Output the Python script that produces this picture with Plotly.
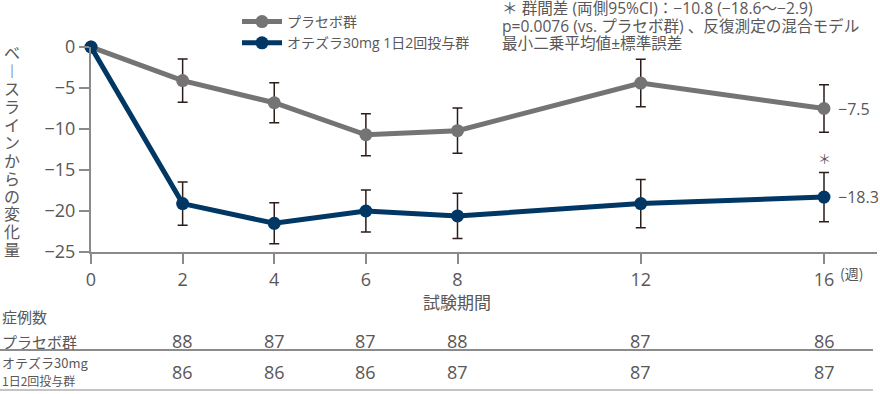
import plotly.graph_objects as go

# ---- data ----
weeks = [0, 2, 4, 6, 8, 12, 16]
placebo_mean = [0, -4.1, -6.8, -10.7, -10.2, -4.4, -7.5]
placebo_se = [0, 2.65, 2.45, 2.55, 2.75, 2.9, 2.9]
drug_mean = [0, -19.1, -21.5, -20.0, -20.6, -19.1, -18.3]
drug_se = [0, 2.65, 2.5, 2.55, 2.75, 2.95, 3.0]

series_names = ["プラセボ群", "オテズラ30mg 1日2回投与群"]
end_labels = ["−7.5", "−18.3"]

table_weeks = [2, 4, 6, 8, 12, 16]
n_placebo = [88, 87, 87, 88, 87, 86]
n_drug = [86, 86, 86, 87, 87, 87]

x_ticks = [0, 2, 4, 6, 8, 12, 16]
x_ticktext = ["0", "2", "4", "6", "8", "12", "16"]
y_ticks = [0, -5, -10, -15, -20, -25]

y_title = "ベ︱スラインからの変化量"
x_title = "試験期間"
note_lines = [
    "＊ 群間差 (両側95%CI)：−10.8 (−18.6〜−2.9)",
    "p=0.0076 (vs. プラセボ群) 、反復測定の混合モデル",
    "最小二乗平均値±標準誤差",
]

# ---- style ----
FONT = "Open Sans, Noto Sans CJK JP"
CJK = "Noto Sans CJK JP"
GRAY_TXT = "#595757"
PLACEBO_C = "#747474"
DRUG_C = "#003764"
ERR_C = "#2b1d1a"
AXIS_C = "#8a8a8a"

W, H = 880, 394
ML, MR, MT, MB = 91, 3, 47, 142
PW = W - ML - MR
PH = H - MT - MB


def px_x(p):
    return (p - ML) / PW


def px_y(p):
    return (H - MB - p) / PH


fig = go.Figure()
for name, mean, se, col in [
    (series_names[0], placebo_mean, placebo_se, PLACEBO_C),
    (series_names[1], drug_mean, drug_se, DRUG_C),
]:
    fig.add_trace(go.Scatter(
        x=weeks, y=mean, name=name, mode="lines+markers",
        line=dict(color=col, width=5),
        marker=dict(color=col, size=13),
        error_y=dict(type="data", array=se, visible=True, color=ERR_C,
                     thickness=1.5, width=5),
        cliponaxis=False,
    ))

fig.update_layout(
    width=W, height=H,
    margin=dict(l=ML, r=MR, t=MT, b=MB, pad=0),
    paper_bgcolor="white", plot_bgcolor="white",
    font=dict(family=FONT, color=GRAY_TXT, size=15),
    showlegend=True,
    legend=dict(x=px_x(237), y=px_y(6), xanchor="left", yanchor="top",
                font=dict(size=14, color=GRAY_TXT), bgcolor="rgba(0,0,0,0)",
                itemwidth=40, tracegroupgap=0),
    xaxis=dict(range=[0, PW / (733 / 16)], tickvals=x_ticks, ticktext=x_ticktext,
               showline=True, linecolor=AXIS_C, linewidth=2,
               ticks="outside", ticklen=10, tickwidth=2, tickcolor=AXIS_C,
               showgrid=False, zeroline=False,
               tickfont=dict(size=18, color=GRAY_TXT)),
    yaxis=dict(range=[-25, 0], tickvals=y_ticks,
               showline=True, linecolor=AXIS_C, linewidth=2,
               ticks="outside", ticklen=10, tickwidth=2, tickcolor=AXIS_C,
               showgrid=False, zeroline=False,
               tickfont=dict(size=18, color=GRAY_TXT)),
)

ann = []
# vertical y title (one character per line; glyphs larger than line pitch font)
ann.append(dict(text="<br>".join('<span style="font-size:16px">%s</span>' % c for c in y_title),
                xref="paper", yref="paper",
                x=px_x(12), y=px_y(150), showarrow=False,
                font=dict(size=13.8, color=GRAY_TXT, family=CJK),
                xanchor="center", yanchor="middle", align="center"))
# x title
ann.append(dict(text=x_title, xref="paper", yref="paper", x=px_x(457), y=px_y(301),
                showarrow=False, font=dict(size=17, color=GRAY_TXT, family=CJK), yanchor="middle"))
# unit
ann.append(dict(text="(週)", xref="x", yref="paper", x=16, y=px_y(273), xshift=27,
                showarrow=False, font=dict(size=14, color=GRAY_TXT, family=CJK), xanchor="center",
                yanchor="middle"))
# end labels
for val, lab in zip([placebo_mean[-1], drug_mean[-1]], end_labels):
    ann.append(dict(text=lab, xref="x", yref="y", x=weeks[-1], y=val, xshift=12,
                    showarrow=False, font=dict(size=16, color=GRAY_TXT),
                    xanchor="left", yanchor="middle"))
# asterisk
ann.append(dict(text="＊", xref="x", yref="y", x=weeks[-1], y=drug_mean[-1] + drug_se[-1],
                yshift=14, showarrow=False, font=dict(size=13, color=GRAY_TXT, family=CJK),
                xanchor="center", yanchor="middle"))
# note (three lines)
ann.append(dict(text="<br>".join('<span style="font-size:15.6px">%s</span>' % t for t in note_lines),
                xref="paper", yref="paper", x=px_x(500), y=px_y(26),
                showarrow=False, font=dict(size=13.5, color=GRAY_TXT),
                xanchor="left", yanchor="middle", align="left"))
# table
ann.append(dict(text="症例数", xref="paper", yref="paper", x=px_x(0), y=px_y(316),
                showarrow=False, font=dict(size=15, color=GRAY_TXT, family=CJK), xanchor="left", yanchor="middle"))
ann.append(dict(text="プラセボ群", xref="paper", yref="paper", x=px_x(0), y=px_y(341),
                showarrow=False, font=dict(size=15, color=GRAY_TXT, family=CJK), xanchor="left", yanchor="middle"))
ann.append(dict(text="オテズラ30mg", xref="paper", yref="paper", x=px_x(0), y=px_y(362),
                showarrow=False, font=dict(size=13, color=GRAY_TXT, family=CJK), xanchor="left", yanchor="middle"))
ann.append(dict(text="1日2回投与群", xref="paper", yref="paper", x=px_x(0), y=px_y(380),
                showarrow=False, font=dict(size=12, color=GRAY_TXT, family=CJK), xanchor="left", yanchor="middle"))
for wk, a, b in zip(table_weeks, n_placebo, n_drug):
    ann.append(dict(text=str(a), xref="x", yref="paper", x=wk, y=px_y(341), showarrow=False,
                    font=dict(size=18, color=GRAY_TXT), xanchor="center", yanchor="middle"))
    ann.append(dict(text=str(b), xref="x", yref="paper", x=wk, y=px_y(372), showarrow=False,
                    font=dict(size=18, color=GRAY_TXT), xanchor="center", yanchor="middle"))
fig.update_layout(annotations=ann)

fig.add_shape(type="line", xref="paper", yref="paper", x0=px_x(0), x1=px_x(873),
              y0=px_y(350), y1=px_y(350), line=dict(color="#8c8c8c", width=2))
fig.add_shape(type="line", xref="paper", yref="paper", x0=px_x(0), x1=px_x(873),
              y0=px_y(390), y1=px_y(390), line=dict(color="#c4c4c4", width=2))

fig.write_html("out.html")
